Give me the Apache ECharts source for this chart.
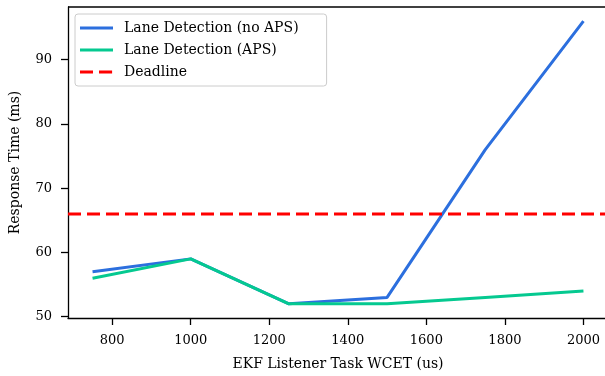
<!DOCTYPE html>
<html><head><meta charset="utf-8">
<script src="https://cdn.jsdelivr.net/npm/echarts@6/dist/echarts.min.js"></script>
<style>html,body{margin:0;padding:0;background:#fff}#c{width:605px;height:376px}</style>
</head><body><div id="c"></div>
<script>
const wcet = [750, 1000, 1250, 1500, 1750, 2000];
const noAps = [57, 59, 52, 53, 76, 96];
const aps = [56, 59, 52, 52, 53, 54];
const deadline = 66;
const xTicks = [800, 1000, 1200, 1400, 1600, 1800, 2000];
const yTicks = [50, 60, 70, 80, 90];
const xMin = 687.5, xMax = 2062.5, yMin = 49.8, yMax = 98.2;

const font = 'DejaVu Serif';
const chart = echarts.init(document.getElementById('c'), null, {renderer: 'canvas'});
const solidIcon = 'path://M0,0 H33 V3 H0 Z';
const dashIcon = 'path://M0,0 H13 V3 H0 Z M19,0 H32 V3 H19 Z M32.9,0 H33 V3 H32.9 Z';
chart.setOption({
  animation: false,
  backgroundColor: '#fff',
  grid: {left: 68, width: 540, top: 7, bottom: 58, show: false, outerBoundsMode: 'none', containLabel: false},
  legend: {
    left: 75, top: 14, orient: 'vertical',
    itemWidth: 33, itemHeight: 3, itemGap: 8,
    padding: [7, 28, 7, 5],
    backgroundColor: 'rgba(255,255,255,0.8)',
    borderColor: '#cccccc', borderWidth: 1, borderRadius: 3,
    textStyle: {fontFamily: font, fontSize: 14, color: '#000', padding: [0,0,0,6]},
    data: [
      {name: 'Lane Detection (no APS)', icon: solidIcon},
      {name: 'Lane Detection (APS)', icon: solidIcon},
      {name: 'Deadline', icon: dashIcon}
    ]
  },
  xAxis: {
    type: 'value', min: xMin, max: xMax,
    name: 'EKF Listener Task WCET (us)', nameLocation: 'middle', nameGap: 39,
    nameTextStyle: {fontFamily: font, fontSize: 14, color: '#000'},
    axisLine: {show: true, onZero: false, lineStyle: {color: '#000', width: 1.3}},
    axisTick: {show: true, length: 7, lineStyle: {color: '#000', width: 1.3}, customValues: xTicks},
    axisLabel: {fontFamily: font, fontSize: 13, color: '#000', margin: 16, customValues: xTicks,
      formatter: v => String(v)},
    splitLine: {show: false}
  },
  yAxis: {
    type: 'value', min: yMin, max: yMax,
    name: 'Response Time (ms)', nameLocation: 'middle', nameGap: 46,
    nameTextStyle: {fontFamily: font, fontSize: 14, color: '#000'},
    axisLine: {show: true, onZero: false, lineStyle: {color: '#000', width: 1.3}},
    axisTick: {show: true, length: 7, lineStyle: {color: '#000', width: 1.3}, customValues: yTicks},
    axisLabel: {fontFamily: font, fontSize: 13, color: '#000', margin: 16, customValues: yTicks,
      formatter: v => String(v)},
    splitLine: {show: false}
  },
  series: [
    {name: 'Lane Detection (no APS)', type: 'line', symbol: 'none',
     data: wcet.map((x, i) => [x, noAps[i]]),
     lineStyle: {color: '#2c6fde', width: 3}, itemStyle: {color: '#2c6fde'}},
    {name: 'Lane Detection (APS)', type: 'line', symbol: 'none',
     data: wcet.map((x, i) => [x, aps[i]]),
     lineStyle: {color: '#05c990', width: 3}, itemStyle: {color: '#05c990'}},
    {name: 'Deadline', type: 'line', symbol: 'none',
     data: [[xMin, deadline], [xMax, deadline]],
     lineStyle: {color: '#ff0000', width: 3, type: [13, 6]}, itemStyle: {color: '#ff0000'}}
  ],
  graphic: [
    {type: 'line', shape: {x1: 68, y1: 7, x2: 605, y2: 7}, style: {stroke: '#000', lineWidth: 1.3}}
  ]
});
</script></body></html>
